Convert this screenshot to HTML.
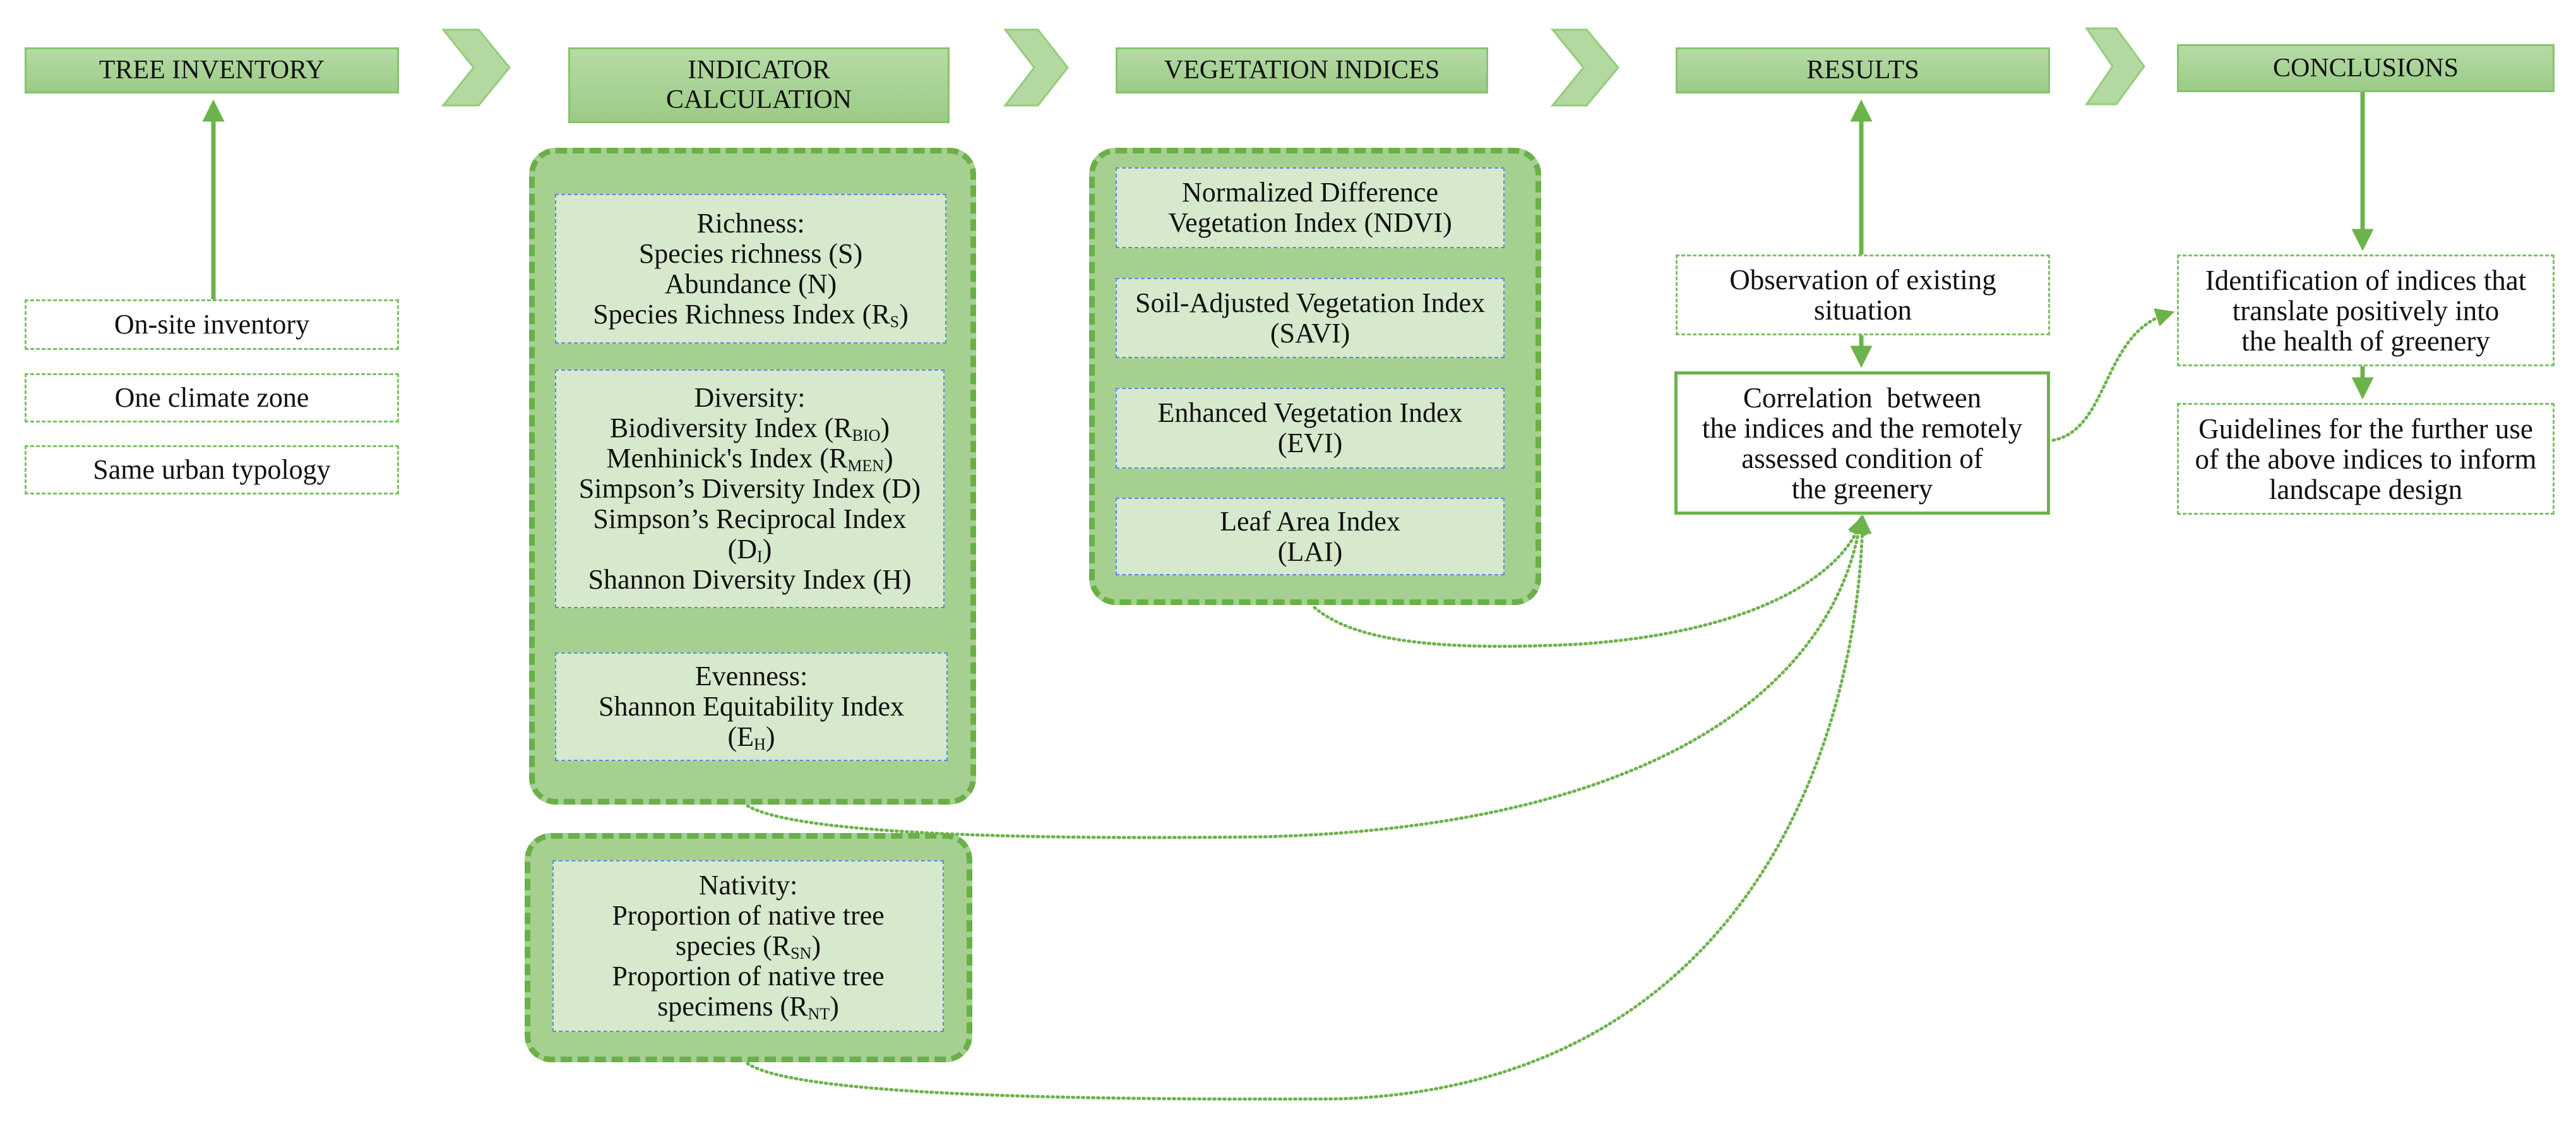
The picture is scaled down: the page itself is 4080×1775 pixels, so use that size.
<!DOCTYPE html>
<html><head><meta charset="utf-8"><style>
*{margin:0;padding:0;box-sizing:border-box}
body{width:4080px;height:1775px;background:#fff;position:relative;overflow:hidden;font-family:"Liberation Serif",serif;color:#111}
.b{position:absolute;display:flex;align-items:center;justify-content:center;text-align:center}
.b>div{width:100%}
.h{background:linear-gradient(#b6dba6,#9ccb86);border:3px solid #86c46c;font-size:42px;line-height:47px}
.w{background:#fff;border:3px dashed #7dc163;font-size:44px;line-height:40px}
.w2{font-size:45px;line-height:48px}
.big{background:#a6d08f;border:9px dashed #6aaf48;border-radius:42px}
.in{background:#d6e9cc;border:2px dashed #5b8bd6;font-size:44px;line-height:48px}
sub{font-size:26px;vertical-align:-6px;line-height:0}
</style></head><body>
<div class="big" style="position:absolute;left:838px;top:234px;width:708px;height:1040px"></div>
<div class="big" style="position:absolute;left:831px;top:1319px;width:709px;height:363px"></div>
<div class="big" style="position:absolute;left:1725px;top:234px;width:716px;height:724px"></div>
<svg width="4080" height="1775" style="position:absolute;left:0;top:0;z-index:2">
<defs>
<marker id="a" markerWidth="5" markerHeight="5" refX="2.5" refY="2.5" orient="auto" markerUnits="strokeWidth"><path d="M0,0L5,2.5L0,5Z" fill="#6cb34c"/></marker>
<marker id="d" markerWidth="6" markerHeight="6" refX="3" refY="3" orient="auto" markerUnits="strokeWidth"><path d="M0,0L6,3L0,6Z" fill="#6cb34c"/></marker>
</defs>
<g fill="#b3d9a0" stroke="#94cc7c" stroke-width="3">
<polygon points="702,47 758,47 807,107 758,167 702,167 750,107"/>
<polygon points="1592,47 1644,47 1691,107 1644,167 1592,167 1638,107"/>
<polygon points="2459,47 2513,47 2563,107 2513,167 2459,167 2508,107"/>
<polygon points="3305,45 3352,45 3396,105 3352,165 3305,165 3346,105"/>
</g>
<g stroke="#6cb34c" stroke-width="7" fill="none">
<line x1="338" y1="474" x2="338" y2="175" marker-end="url(#a)"/>
<line x1="2948" y1="403" x2="2948" y2="175" marker-end="url(#a)"/>
<line x1="2948" y1="531" x2="2948" y2="565" marker-end="url(#a)"/>
<line x1="3742" y1="146" x2="3742" y2="380" marker-end="url(#a)"/>
<line x1="3742" y1="580" x2="3742" y2="615" marker-end="url(#a)"/>
</g>
<g stroke="#6cb34c" stroke-width="5" fill="none" stroke-dasharray="2 6" stroke-linecap="round">
<path d="M2082,962 C2150,1020 2300,1030 2500,1020 C2800,1000 2920,900 2946,830" marker-end="url(#d)"/>
<path d="M1184,1276 C1260,1320 1600,1330 2000,1325 C2600,1310 2900,1100 2946,830" marker-end="url(#d)"/>
<path d="M1184,1684 C1260,1735 1700,1742 2120,1740 C2750,1720 2940,1200 2950,830" marker-end="url(#d)"/>
<path d="M3252,697 C3340,680 3330,530 3430,498" marker-end="url(#d)"/>
</g>
</svg>
<div class="b h" style="left:39px;top:75px;width:593px;height:73px"><div>TREE INVENTORY</div></div>
<div class="b h" style="left:900px;top:75px;width:604px;height:120px"><div>INDICATOR<br>CALCULATION</div></div>
<div class="b h" style="left:1767px;top:75px;width:590px;height:73px"><div>VEGETATION INDICES</div></div>
<div class="b h" style="left:2654px;top:75px;width:593px;height:73px"><div>RESULTS</div></div>
<div class="b h" style="left:3448px;top:70px;width:598px;height:76px"><div>CONCLUSIONS</div></div>

<div class="b w" style="left:39px;top:474px;width:593px;height:80px"><div>On-site inventory</div></div>
<div class="b w" style="left:39px;top:591px;width:593px;height:78px"><div>One climate zone</div></div>
<div class="b w" style="left:39px;top:705px;width:593px;height:78px"><div>Same urban typology</div></div>

<div class="b in" style="left:879px;top:307px;width:620px;height:237px"><div>Richness:<br>Species richness (S)<br>Abundance (N)<br>Species Richness Index (R<sub>S</sub>)</div></div>
<div class="b in" style="left:879px;top:585px;width:617px;height:378px"><div>Diversity:<br>Biodiversity Index (R<sub>BIO</sub>)<br>Menhinick's Index (R<sub>MEN</sub>)<br>Simpson’s Diversity Index (D)<br>Simpson’s Reciprocal Index<br>(D<sub>I</sub>)<br>Shannon Diversity Index (H)</div></div>
<div class="b in" style="left:879px;top:1033px;width:622px;height:172px"><div>Evenness:<br>Shannon Equitability Index<br>(E<sub>H</sub>)</div></div>

<div class="b in" style="left:875px;top:1362px;width:620px;height:272px"><div>Nativity:<br>Proportion of native tree<br>species (R<sub>SN</sub>)<br>Proportion of native tree<br>specimens (R<sub>NT</sub>)</div></div>

<div class="b in" style="left:1767px;top:265px;width:616px;height:128px"><div>Normalized Difference<br>Vegetation Index (NDVI)</div></div>
<div class="b in" style="left:1767px;top:440px;width:616px;height:127px"><div>Soil-Adjusted Vegetation Index<br>(SAVI)</div></div>
<div class="b in" style="left:1767px;top:614px;width:616px;height:128px"><div>Enhanced Vegetation Index<br>(EVI)</div></div>
<div class="b in" style="left:1767px;top:788px;width:616px;height:123px"><div>Leaf Area Index<br>(LAI)</div></div>

<div class="b w w2" style="left:2654px;top:403px;width:593px;height:128px"><div>Observation of existing<br>situation</div></div>
<div class="b w w2" style="left:2652px;top:588px;width:595px;height:227px;border:5px solid #6cb34c"><div>Correlation&nbsp; between<br>the indices and the remotely<br>assessed condition of<br>the greenery</div></div>
<div class="b w w2" style="left:3448px;top:403px;width:598px;height:177px"><div>Identification of indices that<br>translate positively into<br>the health of greenery</div></div>
<div class="b w w2" style="left:3448px;top:638px;width:598px;height:177px"><div>Guidelines for the further use<br>of the above indices to inform<br>landscape design</div></div>
</body></html>
